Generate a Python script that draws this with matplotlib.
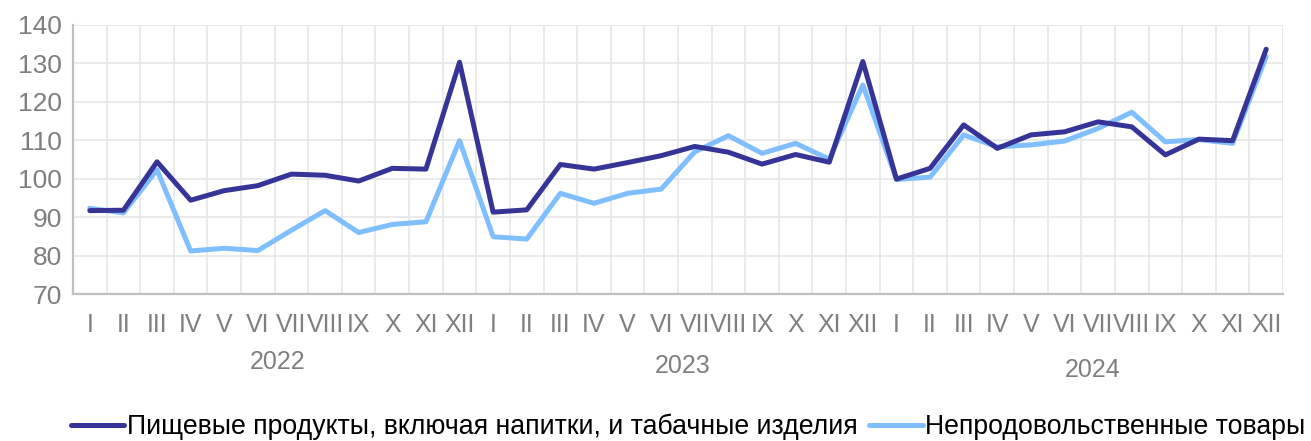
import matplotlib
matplotlib.use("Agg")
import matplotlib.pyplot as plt
import numpy as np

months = ["I", "II", "III", "IV", "V", "VI", "VII", "VIII", "IX", "X", "XI", "XII"]
years = ["2022", "2023", "2024"]
labels = months * 3

food = [91.7, 91.8, 104.4, 94.4, 96.9, 98.2, 101.2, 100.9, 99.4, 102.7, 102.5, 130.3,
        91.3, 91.9, 103.7, 102.5, 104.2, 106.0, 108.4, 106.9, 103.8, 106.3, 104.3, 130.5,
        99.9, 102.7, 114.0, 107.9, 111.4, 112.2, 114.8, 113.5, 106.2, 110.3, 109.9, 133.7]
nonfood = [92.3, 91.1, 102.3, 81.2, 81.9, 81.3, 86.6, 91.7, 86.0, 88.1, 88.8, 109.9,
           84.9, 84.3, 96.2, 93.6, 96.2, 97.3, 107.0, 111.2, 106.6, 109.2, 105.1, 124.4,
           99.8, 100.4, 111.4, 108.3, 108.8, 109.8, 113.1, 117.3, 109.6, 110.2, 109.2, 131.8]
series_names = ["Пищевые продукты, включая напитки, и табачные изделия",
                "Непродовольственные товары"]

plt.rcParams['font.family'] = ['Liberation Sans', 'DejaVu Sans']
W, H = 1311, 441
fig = plt.figure(figsize=(W / 100, H / 100), dpi=100)
ax = fig.add_axes([73 / W, 1 - 294 / H, (1283 - 73) / W, (294 - 25) / H])

x = np.arange(len(labels))
l1, = ax.plot(x, food, color="#373497", lw=3.6, solid_capstyle="round", zorder=4)
l2, = ax.plot(x, nonfood, color="#7FBFFF", lw=3.6, solid_capstyle="round", zorder=3)

ax.set_xlim(-0.5, len(labels) - 0.5)
ax.set_ylim(70, 140)
ax.set_yticks(np.arange(70, 141, 10))
ax.set_xticks(x)
ax.set_xticklabels(labels)
ax.set_xticks(np.arange(-0.5, len(labels), 1), minor=True)

ax.grid(True, axis="y", which="major", color="#E6E6E6", lw=1.2)
ax.grid(True, axis="x", which="minor", color="#E6E6E6", lw=1.2)
ax.grid(False, axis="x", which="major")
ax.set_axisbelow(True)

for s in ["top", "right"]:
    ax.spines[s].set_visible(False)
for s in ["left", "bottom"]:
    ax.spines[s].set_color("#BFBFBF")
    ax.spines[s].set_linewidth(1.6)

ax.tick_params(axis="both", which="both", length=0, colors="#7F7F7F", labelsize=18)
ax.tick_params(axis="y", labelsize=19, pad=8)
ax.tick_params(axis="x", which="major", pad=14)

year_pos = [(278, 362), (683, 366), (1093, 370)]
for yr, (px, py) in zip(years, year_pos):
    fig.text(px / W, 1 - py / H, yr, ha="center", va="center", fontsize=18, color="#7F7F7F")

leg = fig.legend([l1, l2], series_names, loc="lower left", bbox_to_anchor=(60 / W, -0.022),
                 ncol=2, frameon=False, fontsize=19.2, handlelength=2.0, handletextpad=0.1,
                 columnspacing=0.45, borderaxespad=0)

fig.savefig("out.png", dpi=100)
